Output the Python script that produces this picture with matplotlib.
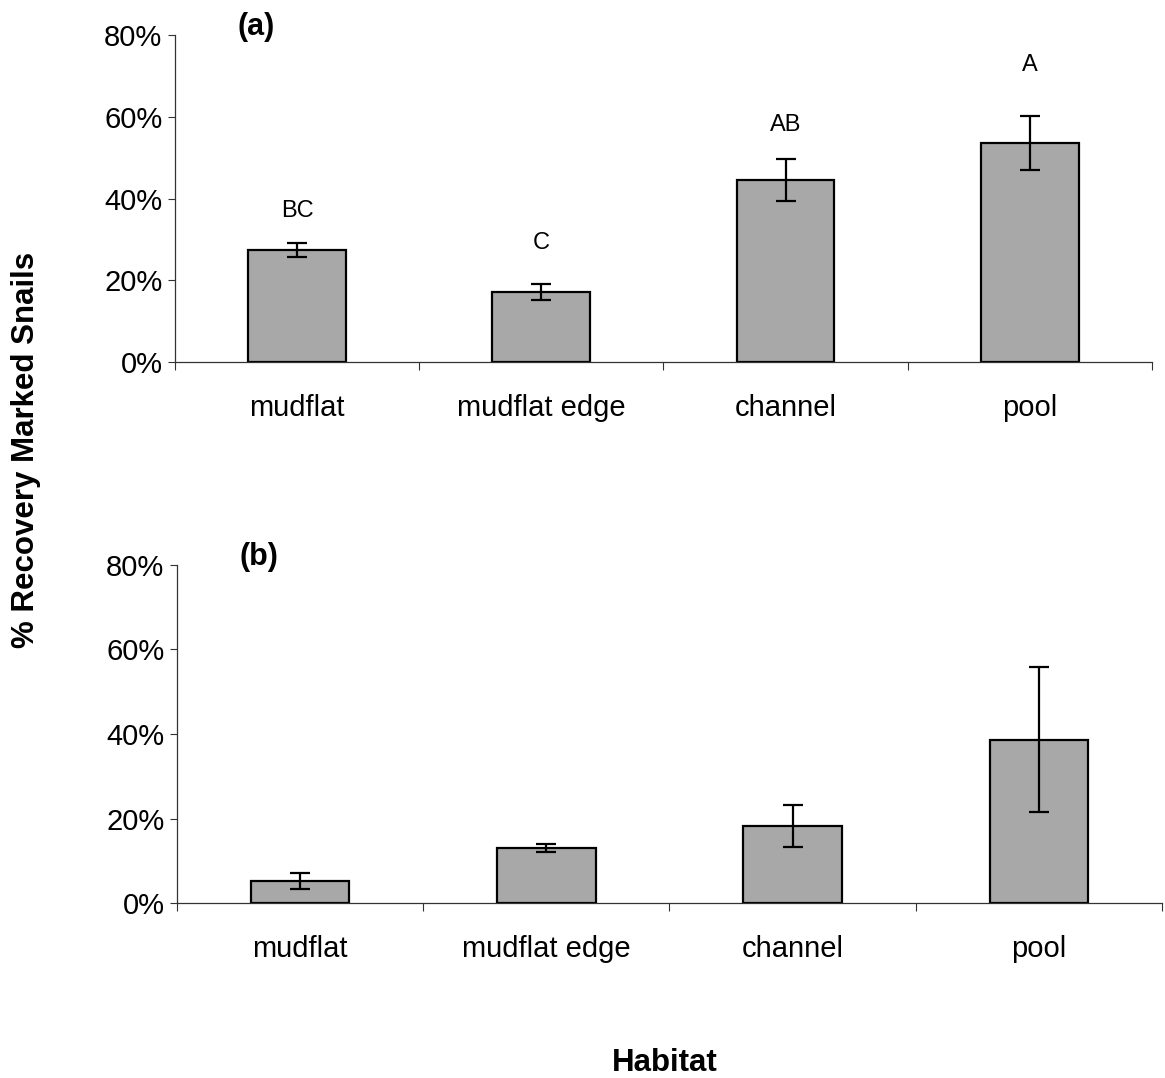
# Recovery of marked snails by habitat, two panels
import numpy as np
import matplotlib.pyplot as plt
from matplotlib.ticker import FixedLocator, PercentFormatter

plt.rcParams['font.family'] = ['Liberation Sans', 'DejaVu Sans']

# Data (percent)
habitats = ['mudflat', 'mudflat edge', 'channel', 'pool']
rec_a = [27.4, 17.2, 44.5, 53.6]
err_a = [1.75, 2.0, 5.1, 6.6]
letters_a = ['BC', 'C', 'AB', 'A']
letter_y_a = [37.0, 29.2, 58.0, 72.6]
rec_b = [5.2, 13.0, 18.2, 38.7]
err_b = [1.8, 1.0, 5.0, 17.2]

fig = plt.figure(figsize=(11.65, 10.78), dpi=100)
ax_a = fig.add_axes([0.1502, 0.6642, 0.8386, 0.3033])
ax_b = fig.add_axes([0.1519, 0.1623, 0.8455, 0.3136])

ind = np.arange(1, len(habitats) + 1)
bar_col = '#a8a8a8'


def draw_panel(ax, vals, errs, tag):
    ax.bar(ind, vals, width=0.4, color=bar_col, edgecolor='black',
           linewidth=1.6, zorder=2)
    ax.errorbar(ind, vals, yerr=errs, fmt='none', ecolor='black',
                elinewidth=1.6, capsize=7.5, capthick=1.6, zorder=3)
    ax.set_xlim(0.5, 4.5)
    ax.set_ylim(0, 80)
    ax.set_yticks([0, 20, 40, 60, 80])
    ax.yaxis.set_major_formatter(PercentFormatter(decimals=0))
    ax.set_xticks(ind)
    ax.set_xticklabels(habitats)
    ax.xaxis.set_minor_locator(FixedLocator(np.arange(0.5, 4.6, 1.0)))
    ax.tick_params(axis='x', which='major', length=0, pad=23, labelsize=21)
    ax.tick_params(axis='x', which='minor', length=6, width=0.8,
                   direction='out', color='#333333')
    ax.tick_params(axis='y', length=5, width=0.8, direction='out', pad=4,
                   labelsize=21, color='#333333')
    for s in ['top', 'right']:
        ax.spines[s].set_visible(False)
    for s in ['left', 'bottom']:
        ax.spines[s].set_color('#333333')
        ax.spines[s].set_linewidth(0.9)
    ax.text(0.083, 1.025, tag, transform=ax.transAxes, fontsize=22,
            fontweight='bold', ha='center', va='center')


draw_panel(ax_a, rec_a, err_a, '(a)')
draw_panel(ax_b, rec_b, err_b, '(b)')

for x, y, lab in zip(ind, letter_y_a, letters_a):
    ax_a.text(x, y, lab, fontsize=17, ha='center', va='center')

fig.text(0.022, 0.5826, '% Recovery Marked Snails', rotation=90,
         fontsize=22.5, fontweight='bold', ha='center', va='center')
fig.text(0.571, 0.014, 'Habitat', fontsize=22.5, fontweight='bold',
         ha='center', va='center')

fig.savefig('out.png', dpi=100)
